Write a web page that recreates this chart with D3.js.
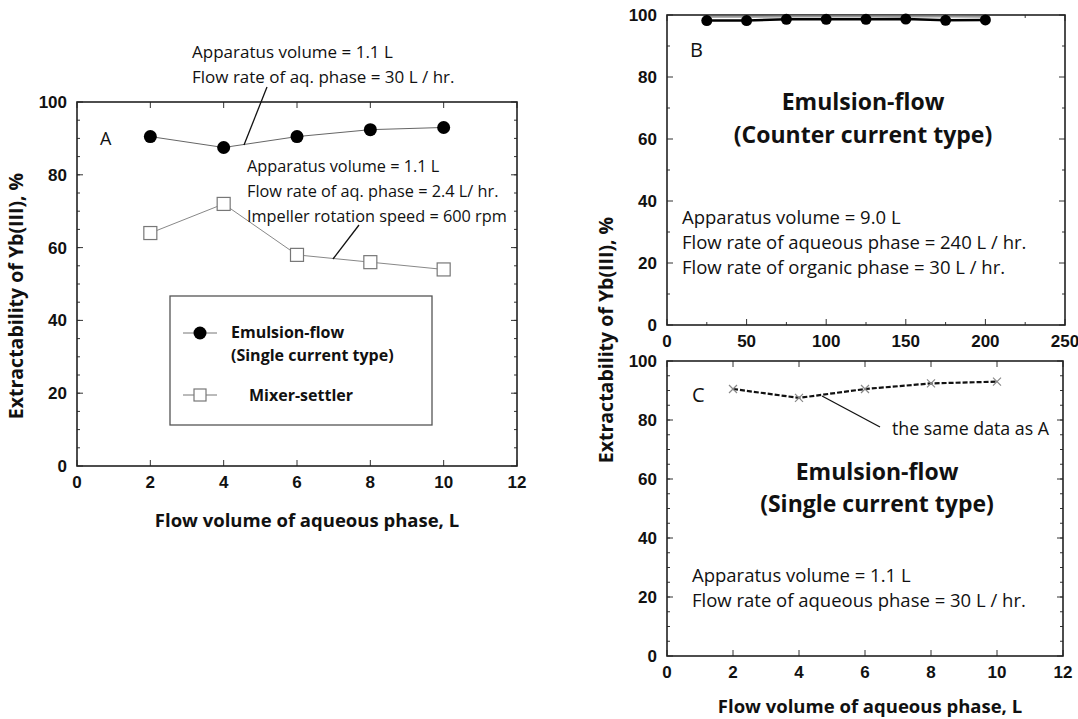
<!DOCTYPE html>
<html>
<head>
<meta charset="utf-8">
<script src="https://cdn.jsdelivr.net/npm/d3@7"></script>
<style>
  body { margin: 0; background: #fff; }
  svg { display: block; }
  .tick-label { font-family: "Liberation Sans", Arial, sans-serif; font-weight: bold; font-size: 17px; fill: #111; }
  .note { font-family: "Open Sans", sans-serif; fill: #111; }
  .title { font-family: "Open Sans", sans-serif; font-weight: bold; fill: #111; }
</style>
</head>
<body>
<figure id="chart" style="margin:0"></figure>
<script>
// panel A / C : flow volume of aqueous phase (L)
const volumes = [2, 4, 6, 8, 10];
const emulsionSingle = [90.5, 87.5, 90.5, 92.4, 93];
const mixerSettler = [64, 72, 58, 56, 54];

// panel B : counter current type
const volumesB = [25, 50, 75, 100, 125, 150, 175, 200];
const emulsionCounter = [98.2, 98.2, 98.6, 98.6, 98.6, 98.7, 98.3, 98.4];
const emulsionCounterGrey = [99.4, 99.4, 99.5, 99.5, 99.5, 99.5, 99.5, 99.4];

const ticksA = [0, 2, 4, 6, 8, 10, 12];
const ticksB = [0, 50, 100, 150, 200, 250];
const ticksY = [0, 20, 40, 60, 80, 100];

const yLabel = "Extractability of Yb(III), %";
const xLabel = "Flow volume of aqueous phase, L";

const svg = d3.select("#chart").append("svg")
  .attr("width", 1078)
  .attr("height", 719);

// draws frame, ticks on all sides and tick labels
function drawFrame(box, xDomain, xTicks, xMinor, yMinor) {
  const x = d3.scaleLinear().domain(xDomain).range([box.left, box.right]);
  const y = d3.scaleLinear().domain([0, 100]).range([box.bottom, box.top]);
  const g = svg.append("g");

  const tick = (x1, y1, x2, y2) => g.append("line")
    .attr("x1", x1).attr("y1", y1).attr("x2", x2).attr("y2", y2)
    .attr("stroke", "#333").attr("stroke-width", 1);

  xTicks.forEach(t => {
    tick(x(t), box.bottom, x(t), box.bottom - 6);
    tick(x(t), box.top, x(t), box.top + 6);
  });
  xMinor.forEach(t => {
    tick(x(t), box.bottom, x(t), box.bottom - 3);
    tick(x(t), box.top, x(t), box.top + 3);
  });
  ticksY.forEach(t => {
    tick(box.left, y(t), box.left + 6, y(t));
    tick(box.right, y(t), box.right - 6, y(t));
  });
  yMinor.forEach(t => {
    tick(box.left, y(t), box.left + 3, y(t));
    tick(box.right, y(t), box.right - 3, y(t));
  });

  g.append("rect")
    .attr("x", box.left).attr("y", box.top)
    .attr("width", box.right - box.left).attr("height", box.bottom - box.top)
    .attr("fill", "none").attr("stroke", "#222").attr("stroke-width", 1.6);

  g.selectAll(".xl").data(xTicks).enter().append("text")
    .attr("class", "tick-label")
    .attr("x", d => x(d)).attr("y", box.bottom + 22)
    .attr("text-anchor", "middle")
    .text(d => d);

  g.selectAll(".yl").data(ticksY).enter().append("text")
    .attr("class", "tick-label")
    .attr("x", box.left - 10).attr("y", d => y(d) + 6)
    .attr("text-anchor", "end")
    .text(d => d);

  return { x, y };
}

function notes(lines, x0, y0, step, size) {
  lines.forEach((t, i) => svg.append("text")
    .attr("class", "note")
    .style("font-size", size + "px")
    .attr("x", x0).attr("y", y0 + i * step)
    .text(t));
}

function bold(text, x0, y0, size, anchor) {
  svg.append("text")
    .attr("class", "title")
    .style("font-size", size + "px")
    .attr("text-anchor", anchor || "start")
    .attr("x", x0).attr("y", y0)
    .text(text);
}

function leader(x1, y1, x2, y2) {
  svg.append("line")
    .attr("x1", x1).attr("y1", y1).attr("x2", x2).attr("y2", y2)
    .attr("stroke", "#111").attr("stroke-width", 1.3);
}

function rotLabel(text, cx, cy) {
  svg.append("text")
    .attr("class", "title")
    .style("font-size", "19.5px")
    .attr("text-anchor", "middle")
    .attr("transform", `translate(${cx},${cy}) rotate(-90)`)
    .text(text);
}

const line = (sx, sy) => d3.line().x(d => sx(d[0])).y(d => sy(d[1]));

// ---------- Panel A ----------
const boxA = { left: 77, right: 517, top: 102, bottom: 466 };
const A = drawFrame(boxA, [0, 12], ticksA, [], d3.range(5, 100, 5));

svg.append("path")
  .datum(d3.zip(volumes, mixerSettler))
  .attr("d", line(A.x, A.y))
  .attr("fill", "none").attr("stroke", "#888").attr("stroke-width", 1);
svg.append("path")
  .datum(d3.zip(volumes, emulsionSingle))
  .attr("d", line(A.x, A.y))
  .attr("fill", "none").attr("stroke", "#666").attr("stroke-width", 1);

svg.selectAll(".ms").data(d3.zip(volumes, mixerSettler)).enter().append("rect")
  .attr("x", d => A.x(d[0]) - 6.5).attr("y", d => A.y(d[1]) - 6.5)
  .attr("width", 13).attr("height", 13)
  .attr("fill", "#fff").attr("stroke", "#777").attr("stroke-width", 1.2);
svg.selectAll(".ef").data(d3.zip(volumes, emulsionSingle)).enter().append("circle")
  .attr("cx", d => A.x(d[0])).attr("cy", d => A.y(d[1]))
  .attr("r", 6.5).attr("fill", "#000");

notes(["A"], 100, 145, 0, 18);
notes(["Apparatus volume = 1.1 L", "Flow rate of aq. phase = 30 L / hr."], 192, 58, 25, 17);
leader(267, 87, 244, 145);
notes(["Apparatus volume = 1.1 L", "Flow rate of aq. phase = 2.4 L/ hr.", "Impeller rotation speed = 600 rpm"], 247, 172, 25, 16.3);
leader(359, 225, 333, 259);

// legend
svg.append("rect")
  .attr("x", 170).attr("y", 296).attr("width", 262).attr("height", 129)
  .attr("fill", "#fff").attr("stroke", "#555").attr("stroke-width", 1.3);
[[333, "circle"], [395, "square"]].forEach(([ly, kind]) => {
  svg.append("line").attr("x1", 183).attr("x2", 217).attr("y1", ly).attr("y2", ly)
    .attr("stroke", "#777").attr("stroke-width", 1);
  if (kind === "circle") {
    svg.append("circle").attr("cx", 200).attr("cy", ly).attr("r", 6.5).attr("fill", "#000");
  } else {
    svg.append("rect").attr("x", 194).attr("y", ly - 6).attr("width", 12).attr("height", 12)
      .attr("fill", "#fff").attr("stroke", "#777").attr("stroke-width", 1.2);
  }
});
bold("Emulsion-flow", 231, 338, 16);
bold("(Single current type)", 231, 361, 16);
bold("Mixer-settler", 249, 401, 16);

rotLabel(yLabel, 23, 296);
bold(xLabel, 307, 527, 18.5, "middle");

// ---------- Panel B ----------
const boxB = { left: 667, right: 1065, top: 15, bottom: 325 };
const B = drawFrame(boxB, [0, 250], ticksB, [25, 75, 125, 175, 225], d3.range(10, 100, 20));

svg.append("path")
  .datum(d3.zip(volumesB, emulsionCounterGrey))
  .attr("d", line(B.x, B.y))
  .attr("fill", "none").attr("stroke", "#999").attr("stroke-width", 2);
svg.append("path")
  .datum(d3.zip(volumesB, emulsionCounter))
  .attr("d", line(B.x, B.y))
  .attr("fill", "none").attr("stroke", "#000").attr("stroke-width", 2.5);
svg.selectAll(".cc").data(d3.zip(volumesB, emulsionCounter)).enter().append("circle")
  .attr("cx", d => B.x(d[0])).attr("cy", d => B.y(d[1]))
  .attr("r", 5.5).attr("fill", "#000");

notes(["B"], 690, 57, 0, 20);
bold("Emulsion-flow", 863, 110, 23, "middle");
bold("(Counter current type)", 863, 143, 23, "middle");
notes(["Apparatus volume = 9.0 L", "Flow rate of aqueous phase = 240 L / hr.", "Flow rate of organic phase = 30 L / hr."], 682, 224, 25, 18.5);

// ---------- Panel C ----------
const boxC = { left: 667, right: 1063, top: 361, bottom: 656 };
const C = drawFrame(boxC, [0, 12], ticksA, [], d3.range(5, 100, 5));

svg.append("path")
  .datum(d3.zip(volumes, emulsionSingle))
  .attr("d", line(C.x, C.y))
  .attr("fill", "none").attr("stroke", "#111").attr("stroke-width", 2.2)
  .attr("stroke-dasharray", "5,2");
svg.selectAll(".cx").data(d3.zip(volumes, emulsionSingle)).enter().append("path")
  .attr("d", d => {
    const cx = C.x(d[0]), cy = C.y(d[1]);
    return `M${cx - 4},${cy - 4}L${cx + 4},${cy + 4}M${cx - 4},${cy + 4}L${cx + 4},${cy - 4}`;
  })
  .attr("stroke", "#888").attr("stroke-width", 1.2);

notes(["C"], 692, 402, 0, 20);
leader(822, 396, 880, 427);
notes(["the same data as A"], 892, 435, 25, 17.8);
bold("Emulsion-flow", 877, 480, 23, "middle");
bold("(Single current type)", 877, 512, 23, "middle");
notes(["Apparatus volume = 1.1 L", "Flow rate of aqueous phase = 30 L / hr."], 692, 582, 25, 18.5);

rotLabel(yLabel, 613, 340);
bold(xLabel, 870, 713, 18.5, "middle");
</script>
</body>
</html>
